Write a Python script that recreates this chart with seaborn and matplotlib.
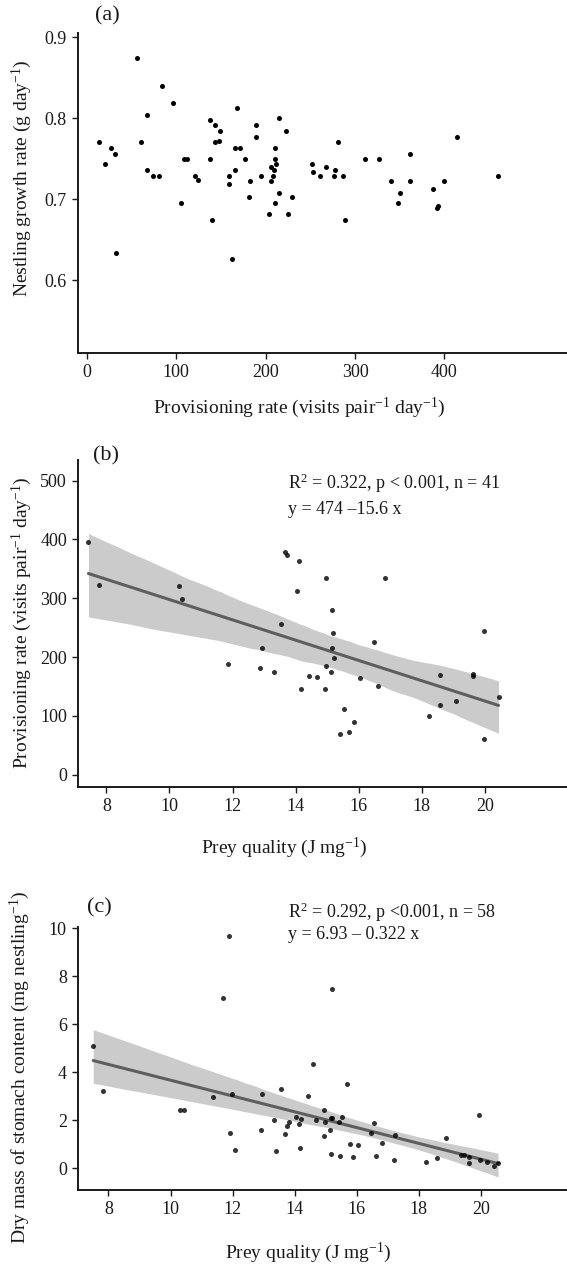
import matplotlib
matplotlib.use("Agg")
import matplotlib.pyplot as plt
from matplotlib.collections import PolyCollection
import numpy as np
import pandas as pd
import seaborn as sns

# ---------------- data ----------------
# (a) provisioning rate vs nestling growth rate
prov_a = [56, 14, 20, 27, 32, 61, 68, 67, 74, 81, 84, 96, 109, 112, 121, 124, 138, 143, 149, 143,
          148, 138, 168, 166, 171, 177, 166, 159, 159, 183, 182, 189, 189, 195, 215, 223, 211, 210,
          206, 209, 212, 208, 206, 215, 229, 252, 253, 261, 268, 276, 278, 281, 287, 311, 327, 340,
          350, 361, 361, 387, 399, 414, 460, 106, 140, 204, 210, 225, 289, 348, 392, 393, 33, 162]
growth_a = [0.874, 0.770, 0.743, 0.763, 0.756, 0.770, 0.804, 0.736, 0.729, 0.729, 0.839, 0.818,
            0.750, 0.750, 0.729, 0.723, 0.798, 0.791, 0.784, 0.770, 0.772, 0.750, 0.812, 0.763,
            0.763, 0.750, 0.736, 0.729, 0.718, 0.722, 0.702, 0.791, 0.777, 0.729, 0.800, 0.784,
            0.763, 0.750, 0.739, 0.736, 0.743, 0.729, 0.722, 0.708, 0.702, 0.743, 0.733, 0.729,
            0.739, 0.729, 0.736, 0.770, 0.729, 0.750, 0.750, 0.722, 0.708, 0.756, 0.722, 0.713,
            0.722, 0.777, 0.729, 0.695, 0.674, 0.681, 0.695, 0.681, 0.674, 0.695, 0.689, 0.691,
            0.633, 0.626]

# (b) prey quality vs provisioning rate
prey_b = [7.43, 13.67, 13.72, 14.12, 14.97, 16.82, 7.76, 10.29, 10.39, 14.04, 15.16, 13.54, 15.17,
          16.47, 15.14, 12.93, 15.20, 11.84, 12.87, 14.97, 13.30, 15.12, 14.43, 14.69, 16.04, 18.59,
          19.63, 19.63, 14.18, 14.93, 16.62, 19.97, 15.53, 15.85, 15.42, 15.70, 18.24, 18.59, 19.08,
          20.43, 19.98]
prov_b = [395, 378, 373, 364, 335, 335, 323, 321, 298, 312, 280, 256, 241, 225, 216, 215, 199, 189,
          182, 185, 174, 174, 168, 166, 164, 170, 171, 168, 145, 145, 151, 244, 112, 89, 70, 72, 100,
          119, 125, 132, 60]

# (c) prey quality vs dry mass of stomach content
prey_c = [11.88, 11.69, 15.19, 7.51, 7.82, 10.32, 10.45, 11.36, 11.99, 11.92, 12.07, 12.96, 12.91,
          13.55, 13.33, 13.40, 13.68, 13.75, 13.83, 14.05, 14.13, 14.20, 14.18, 14.44, 14.60, 14.70,
          14.95, 14.98, 14.94, 15.16, 15.21, 15.15, 15.17, 15.44, 15.45, 15.53, 15.69, 15.77, 15.87,
          16.05, 16.46, 16.55, 16.63, 16.80, 17.23, 17.20, 18.22, 18.57, 18.86, 19.37, 19.45, 19.62,
          19.60, 19.94, 19.97, 20.18, 20.41, 20.55]
stomach_c = [9.69, 7.10, 7.46, 5.08, 3.22, 2.42, 2.42, 2.96, 3.10, 1.47, 0.78, 3.12, 1.60, 3.30, 2.01,
             0.73, 1.42, 1.78, 1.92, 2.13, 1.83, 2.04, 0.85, 3.00, 4.33, 2.01, 2.43, 1.94, 1.37, 2.11,
             2.11, 1.58, 0.61, 1.94, 0.50, 2.15, 3.51, 1.01, 0.47, 0.97, 1.48, 1.90, 0.53, 1.07, 1.39,
             0.33, 0.26, 0.44, 1.26, 0.55, 0.54, 0.48, 0.21, 2.23, 0.37, 0.28, 0.08, 0.21]

ticks_a_x = [0, 100, 200, 300, 400]
ticks_a_y = [0.6, 0.7, 0.8, 0.9]
ticks_b_x = [8, 10, 12, 14, 16, 18, 20]
ticks_b_y = [0, 100, 200, 300, 400, 500]
ticks_c_y = [0, 2, 4, 6, 8, 10]

# ---------------- style ----------------
sns.set_theme(style="ticks")
plt.rcParams["font.family"] = ["Liberation Serif", "DejaVu Serif"]
plt.rcParams["mathtext.fontset"] = "custom"
plt.rcParams["mathtext.rm"] = "Liberation Serif"
plt.rcParams["mathtext.it"] = "Liberation Serif:italic"
plt.rcParams["mathtext.bf"] = "Liberation Serif:bold"
plt.rcParams["mathtext.default"] = "regular"

W, H = 567, 1268
fig = plt.figure(figsize=(W / 100, H / 100), dpi=100)


def fx(x):
    return x / W


def fy(y):
    return 1 - y / H


def make_ax(top, bottom):
    return fig.add_axes([fx(78), fy(bottom), 1 - fx(78), (bottom - top) / H])


ax_a = make_ax(33, 353)
ax_b = make_ax(460, 786.7)
ax_c = make_ax(926.7, 1190)

TICK_FS = 13
LAB_FS = 14
ANN_FS = 13
PAN_FS = 16
INK = "#1a1a1a"
DOT = 13


def style_ax(ax):
    sns.despine(ax=ax)
    for s in ("left", "bottom"):
        ax.spines[s].set_linewidth(1.4)
        ax.spines[s].set_color(INK)
    ax.tick_params(direction="out", length=4, width=1.0, color=INK,
                   labelsize=TICK_FS, labelcolor=INK, pad=4)
    ax.grid(False)


def fix_band(ax):
    for coll in ax.collections:
        if isinstance(coll, PolyCollection):
            coll.set_facecolor("#cbcbcb")
            coll.set_alpha(1)
            coll.set_linewidth(0)
            coll.set_zorder(1)


# ---------------- panel (a) ----------------
sns.scatterplot(x=prov_a, y=growth_a, ax=ax_a, color="black", s=DOT, linewidth=0, zorder=3)
ax_a.set_xlim(-9.7, 537)
ax_a.set_ylim(0.51, 0.905)
ax_a.set_xticks(ticks_a_x)
ax_a.set_yticks(ticks_a_y)
ax_a.set_yticklabels([f"{v:.1f}" for v in ticks_a_y])
style_ax(ax_a)
ax_a.set_xlabel(r"Provisioning rate (visits pair$^{-1}$ day$^{-1}$)", fontsize=LAB_FS, color=INK)
ax_a.set_ylabel(r"Nestling growth rate (g day$^{-1}$)", fontsize=LAB_FS, color=INK)
ax_a.xaxis.set_label_coords(fx(299), fy(396), transform=fig.transFigure)
ax_a.yaxis.set_label_coords(fx(34), fy(178), transform=fig.transFigure)
fig.text(fx(95), fy(6), "(a)", fontsize=PAN_FS, ha="left", va="top", color=INK)

# ---------------- panel (b) ----------------
sns.regplot(x=prey_b, y=prov_b, ax=ax_b, ci=98, n_boot=1000, seed=7, truncate=True,
            color="#5e5e5e",
            scatter_kws=dict(s=DOT, color="black", linewidths=0, zorder=4),
            line_kws=dict(lw=2.2, color="#5e5e5e", zorder=3))
fix_band(ax_b)
ax_b.set_xlim(7.1, 22.6)
ax_b.set_ylim(-20.4, 535)
ax_b.set_xticks(ticks_b_x)
ax_b.set_yticks(ticks_b_y)
style_ax(ax_b)
ax_b.set_xlabel(r"Prey quality (J mg$^{-1}$)", fontsize=LAB_FS, color=INK)
ax_b.set_ylabel(r"Provisioning rate (visits pair$^{-1}$ day$^{-1}$)", fontsize=LAB_FS, color=INK)
ax_b.xaxis.set_label_coords(fx(284), fy(836), transform=fig.transFigure)
ax_b.yaxis.set_label_coords(fx(34), fy(623), transform=fig.transFigure)
fig.text(fx(93), fy(446), "(b)", fontsize=PAN_FS, ha="left", va="top", color=INK)
fig.text(fx(288), fy(472), "R$^{2}$ = 0.322, p < 0.001, n = 41", fontsize=ANN_FS,
         ha="left", va="top", color=INK)
fig.text(fx(288), fy(501), "y = 474 \u201315.6 x", fontsize=ANN_FS, ha="left", va="top", color=INK)

# ---------------- panel (c) ----------------
sns.regplot(x=prey_c, y=stomach_c, ax=ax_c, ci=90, n_boot=1000, seed=3, truncate=True,
            color="#5e5e5e",
            scatter_kws=dict(s=DOT, color="black", linewidths=0, zorder=4),
            line_kws=dict(lw=2.2, color="#5e5e5e", zorder=3))
fix_band(ax_c)
ax_c.set_xlim(7.02, 22.77)
ax_c.set_ylim(-0.9, 10.07)
ax_c.set_xticks(ticks_b_x)
ax_c.set_yticks(ticks_c_y)
style_ax(ax_c)
ax_c.set_xlabel(r"Prey quality (J mg$^{-1}$)", fontsize=LAB_FS, color=INK)
ax_c.set_ylabel(r"Dry mass of stomach content (mg nestling$^{-1}$)", fontsize=LAB_FS, color=INK)
ax_c.xaxis.set_label_coords(fx(308), fy(1241), transform=fig.transFigure)
ax_c.yaxis.set_label_coords(fx(32), fy(1067), transform=fig.transFigure)
fig.text(fx(87), fy(898), "(c)", fontsize=PAN_FS, ha="left", va="top", color=INK)
fig.text(fx(288), fy(901), "R$^{2}$ = 0.292, p <0.001, n = 58", fontsize=ANN_FS,
         ha="left", va="top", color=INK)
fig.text(fx(288), fy(926), "y = 6.93 \u2013 0.322 x", fontsize=ANN_FS, ha="left", va="top", color=INK)

fig.savefig("out.png", dpi=100)
